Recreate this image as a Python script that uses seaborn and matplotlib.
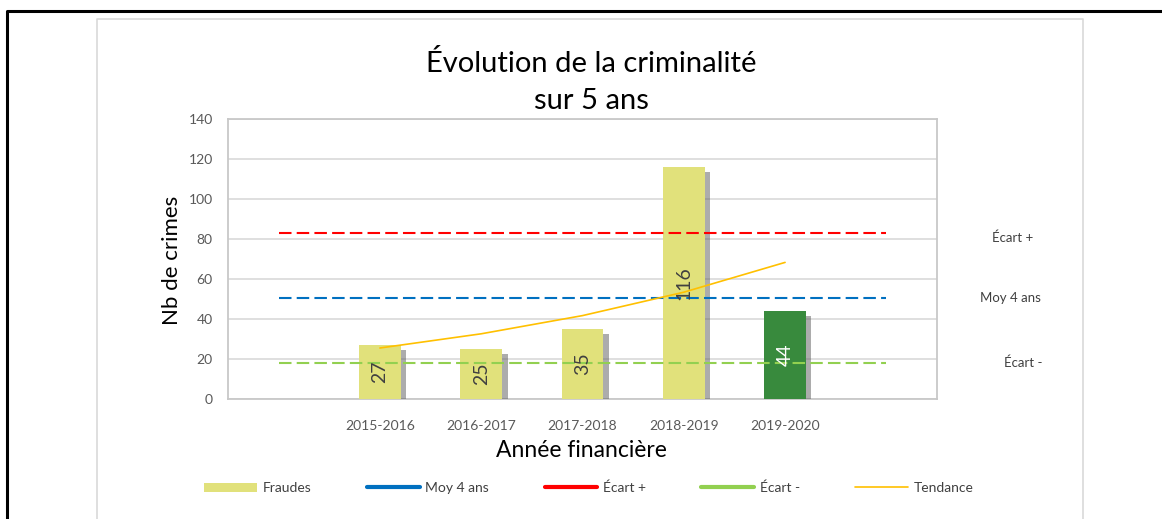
import numpy as np
import pandas as pd
import matplotlib.pyplot as plt
import matplotlib.patheffects as pe
from matplotlib.lines import Line2D
from matplotlib.patches import Patch
from matplotlib.transforms import blended_transform_factory
import seaborn as sns

# -------------------- DATA ---------------------------------
years = ["2015-2016", "2016-2017", "2017-2018", "2018-2019", "2019-2020"]
fraudes = [27, 25, 35, 116, 44]
tendance = [25.5, 32.6, 41.7, 53.4, 68.3]
moy_4_ans = 50.75
ecart_plus = 83.25
ecart_moins = 18.25

bar_colors = ["#E1E17B", "#E1E17B", "#E1E17B", "#E1E17B", "#388A3D"]
label_colors = ["#404040", "#404040", "#404040", "#404040", "white"]

df = pd.DataFrame({"annee": years, "fraudes": fraudes})

# -------------------- STYLE --------------------------------
sns.set_theme(style="white")
plt.rcParams["font.family"] = ["Lato", "DejaVu Sans"]

W, H = 1162, 519
fig = plt.figure(figsize=(W / 100, H / 100), dpi=100)
ax = fig.add_axes([228 / W, 1 - 399 / H, 709 / W, 280 / H])

# outer black border + grey chart frame
fig.add_artist(Line2D([7 / W, 7 / W, 1.0], [0, 1 - 11 / H, 1 - 11 / H],
                      color="black", lw=2.2, transform=fig.transFigure))
fig.add_artist(Line2D([97 / W, 97 / W, 1083 / W, 1083 / W],
                      [0, 1 - 19 / H, 1 - 19 / H, 0],
                      color="#D9D9D9", lw=1.2, transform=fig.transFigure))

# -------------------- BARS ---------------------------------
sns.barplot(data=df, x="annee", y="fraudes", hue="annee", palette=bar_colors,
            width=0.41, legend=False, ax=ax, zorder=3, saturation=1,
            edgecolor="none", linewidth=0)
for p in ax.patches:
    p.set_path_effects([pe.SimplePatchShadow(offset=(4, -3.5), shadow_rgbFace="#5A5A5A", alpha=0.5),
                        pe.Normal()])

for cont in ax.containers:
    ax.bar_label(cont, label_type="center", rotation=90, fontsize=14)
for t, c in zip(ax.texts, label_colors):
    t.set_color(c)
    t.set_zorder(6)

# -------------------- LINES --------------------------------
span = [-1, len(years)]
ax.plot(span, [ecart_plus] * 2, color="#FF0000", lw=1.5, dashes=(6, 2.5), zorder=4)
ax.plot(span, [moy_4_ans] * 2, color="#0070C0", lw=1.5, dashes=(6, 2.5), zorder=4)
ax.plot(span, [ecart_moins] * 2, color="#92D050", lw=1.5, dashes=(6, 2.5), zorder=4)
sns.lineplot(x=np.arange(len(years)), y=tendance, color="#FFC000", lw=1.2, ax=ax, zorder=5)

# -------------------- AXES ---------------------------------
ax.set_xlim(-1.5, len(years) + 0.5)
ax.set_ylim(0, 140)
ax.set_yticks(range(0, 141, 20))
ax.yaxis.grid(True, color="#D9D9D9", lw=1.2, zorder=0)
ax.xaxis.grid(False)
for s in ax.spines.values():
    s.set_visible(True)
    s.set_color("#C8C8C8")
    s.set_linewidth(1.3)
ax.tick_params(axis="both", length=0, labelsize=10, labelcolor="#595959")
ax.tick_params(axis="x", pad=15)
ax.tick_params(axis="y", pad=11)

ax.set_xlabel("Année financière", fontsize=16.5, color="black")
ax.xaxis.set_label_coords((581 - 228) / 709, -(440 - 399) / 280)
ax.set_ylabel("Nb de crimes", fontsize=16, color="black")
ax.yaxis.set_label_coords(-(228 - 182) / 709, (399 - 260) / 280)

fig.text(591 / W, 1 - 82 / H, "Évolution de la criminalité\nsur 5 ans",
         ha="center", va="center", fontsize=21, linespacing=1.5, color="black")

# right side labels
tr = blended_transform_factory(fig.transFigure, ax.transData)
ax.text(1013 / W, ecart_plus - 2.5, "Écart +", transform=tr, ha="center", va="center",
        fontsize=9.5, color="#404040")
ax.text(1010 / W, moy_4_ans, "Moy 4 ans", transform=tr, ha="center", va="center",
        fontsize=9.5, color="#404040")
ax.text(1023 / W, ecart_moins, "Écart -", transform=tr, ha="center", va="center",
        fontsize=9.5, color="#404040")

# -------------------- LEGEND -------------------------------
handles = [
    Patch(facecolor="#E1E17B", edgecolor="none"),
    Line2D([], [], color="#0070C0", lw=3, solid_capstyle="round"),
    Line2D([], [], color="#FF0000", lw=3, solid_capstyle="round"),
    Line2D([], [], color="#92D050", lw=3, solid_capstyle="round"),
    Line2D([], [], color="#FFC000", lw=1.2),
]
labels = ["Fraudes", "Moy 4 ans", "Écart +", "Écart -", "Tendance"]
leg = fig.legend(handles, labels, loc="center", bbox_to_anchor=(589 / W, 1 - 488 / H),
                 ncol=5, frameon=False, fontsize=10, handlelength=3.8, handleheight=0.65,
                 handletextpad=0.4, columnspacing=4.0)
for t in leg.get_texts():
    t.set_color("#404040")

plt.savefig("out.png", dpi=100)
